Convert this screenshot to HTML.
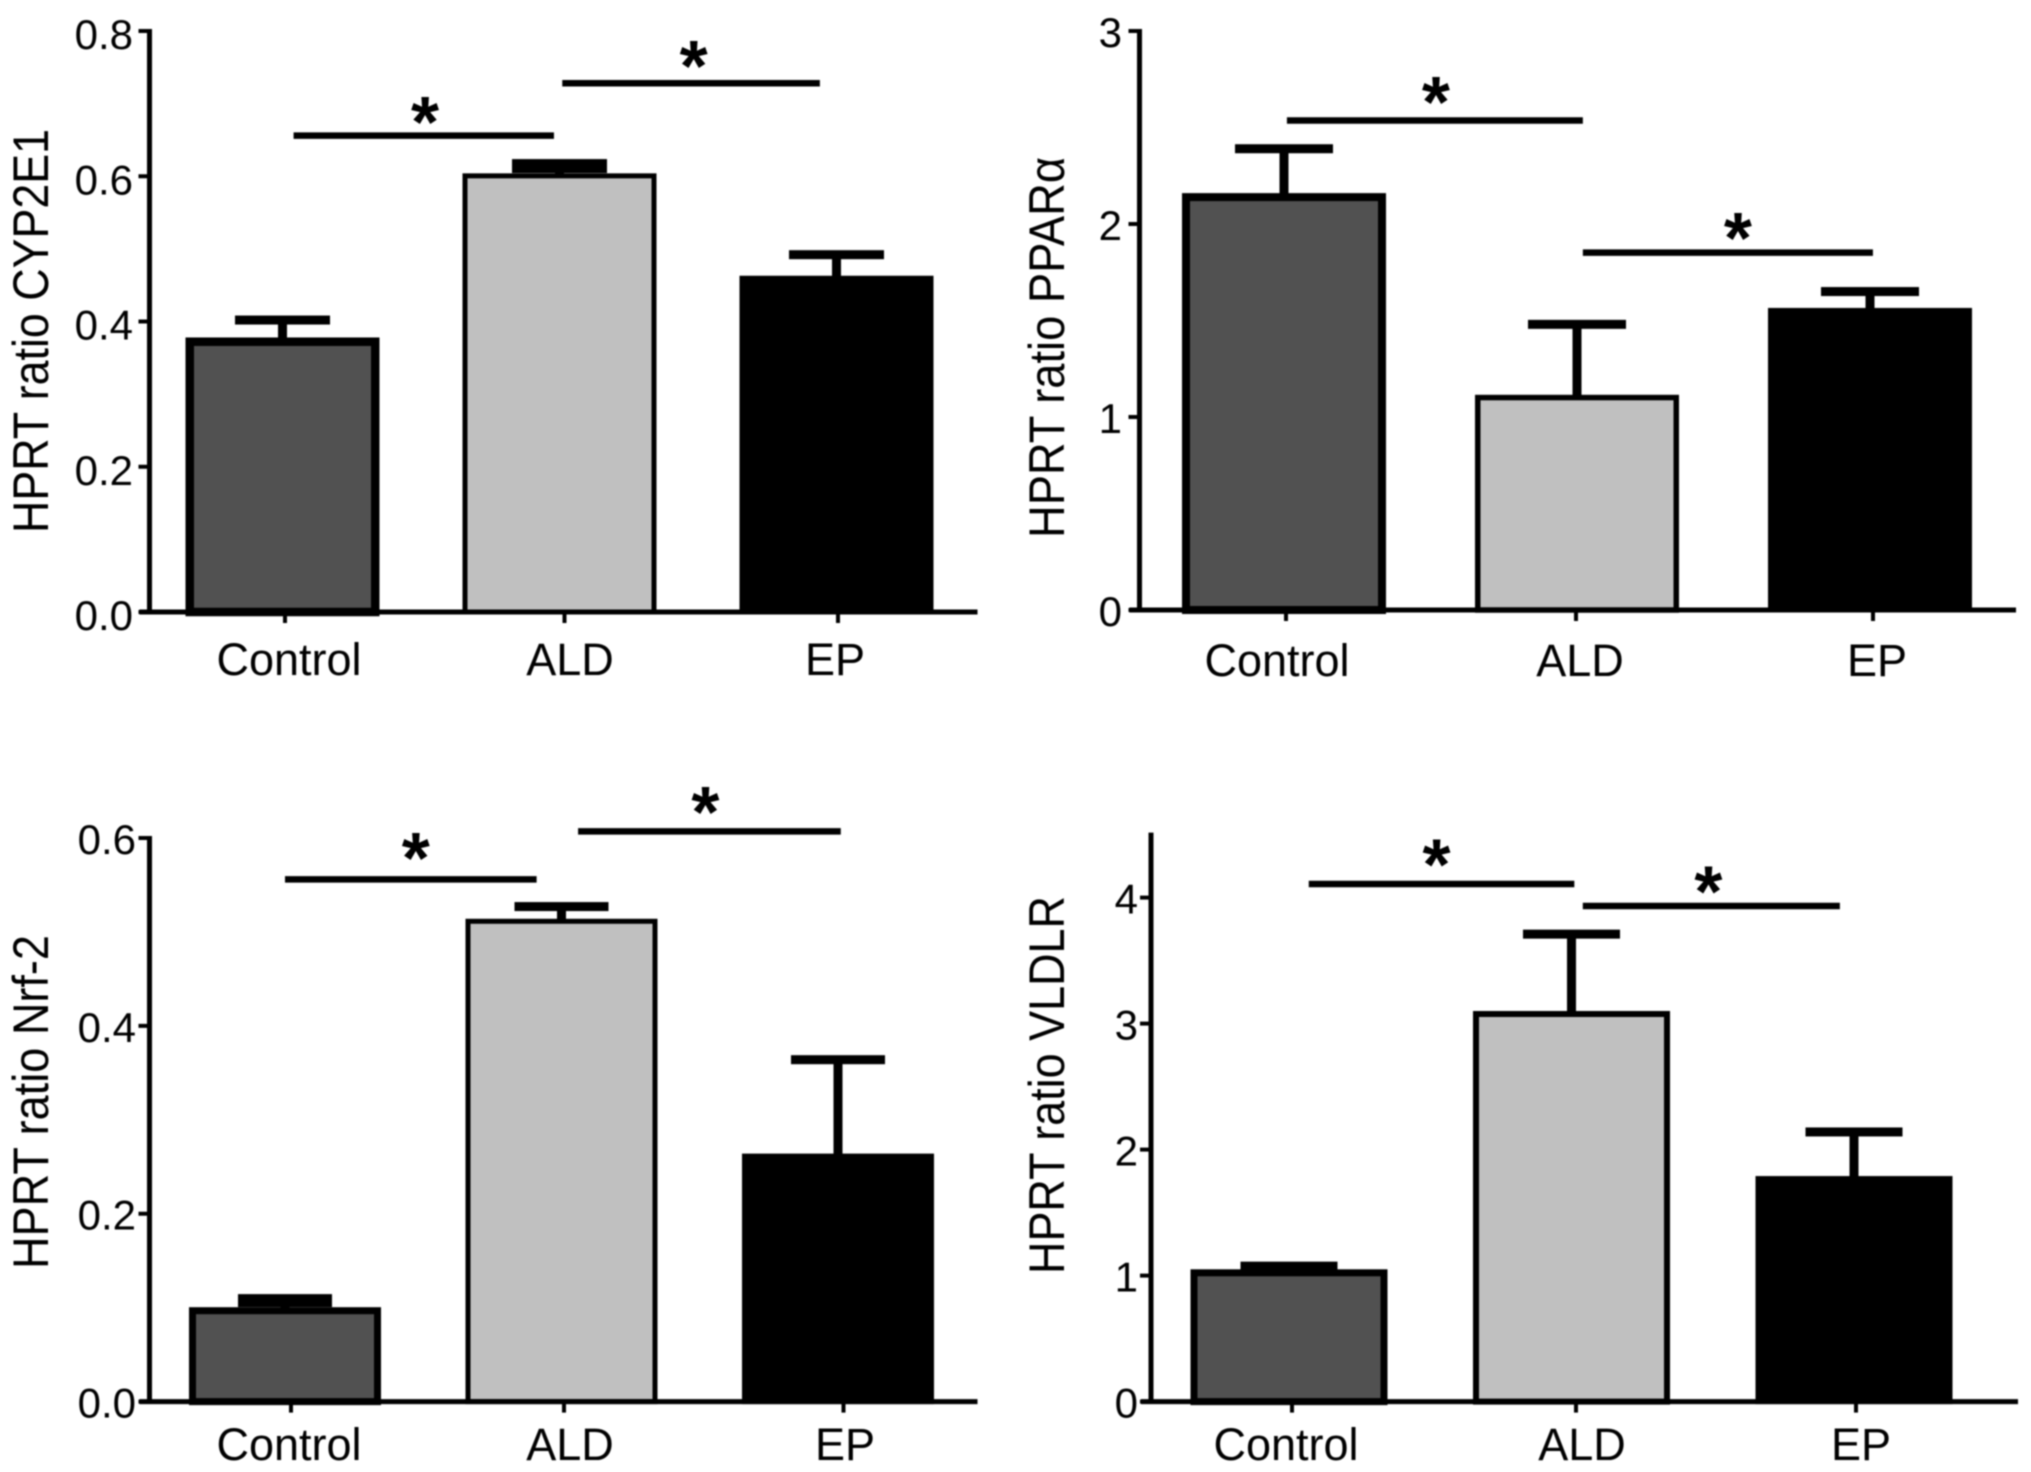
<!DOCTYPE html>
<html lang="en">
<head>
<meta charset="utf-8">
<title>HPRT ratio bar charts</title>
<style>
html,body{margin:0;padding:0;background:#fff;width:2031px;height:1472px;overflow:hidden}
svg{display:block;filter:blur(0.7px)}
text{font-family:"Liberation Sans",sans-serif;fill:#000}
</style>
</head>
<body>
<svg id="figure" xmlns="http://www.w3.org/2000/svg" width="2031" height="1472" viewBox="0 0 2031 1472"></svg>
<script>
// ---- data ----
const categories = ['Control', 'ALD', 'EP'];

const cyp2e1Values = [0.378, 0.604, 0.463];
const cyp2e1Errors = [0.402, 0.614, 0.492];
const cyp2e1Ticks = [0, 0.2, 0.4, 0.6, 0.8];
const cyp2e1TickLabels = ['0.0', '0.2', '0.4', '0.6', '0.8'];
const cyp2e1BracketFrom = [0.04, 1.01];
const cyp2e1BracketTo = [0.98, 1.94];
const cyp2e1BracketLevel = [0.656, 0.728];

const pparValues = [2.16, 1.115, 1.565];
const pparErrors = [2.39, 1.48, 1.65];
const pparTicks = [0, 1, 2, 3];
const pparTickLabels = ['0', '1', '2', '3'];
const pparBracketFrom = [0.01, 1.02];
const pparBracketTo = [1.02, 2.01];
const pparBracketLevel = [2.536, 1.852];

const nrf2Values = [0.1005, 0.514, 0.264];
const nrf2Errors = [0.1075, 0.527, 0.364];
const nrf2Ticks = [0, 0.2, 0.4, 0.6];
const nrf2TickLabels = ['0.0', '0.2', '0.4', '0.6'];
const nrf2BracketFrom = [0.0, 1.06];
const nrf2BracketTo = [0.91, 2.01];
const nrf2BracketLevel = [0.556, 0.607];

const vldlrValues = [1.05, 3.10, 1.79];
const vldlrErrors = [1.075, 3.71, 2.14];
const vldlrTicks = [0, 1, 2, 3, 4];
const vldlrTickLabels = ['0', '1', '2', '3', '4'];
const vldlrBracketFrom = [0.07, 1.04];
const vldlrBracketTo = [1.01, 1.95];
const vldlrBracketLevel = [4.108, 3.933];

// ---- panel layout (geometry only) ----
const barFills = ['#515151', '#c0c0c0', '#000000'];
const panels = [
  {name:'cyp2e1', title:'HPRT ratio CYP2E1', values:cyp2e1Values, errors:cyp2e1Errors, ticks:cyp2e1Ticks, tickLabels:cyp2e1TickLabels,
   from:cyp2e1BracketFrom, to:cyp2e1BracketTo, level:cyp2e1BracketLevel, yMax:0.8,
   axisX:149.5, axisEnd:977.5, y0:612, yTop:31, first:282.5, step:277, barW:194, capW:95, capH:[9,14,9], strokes:[8.5,5,5],
   tickDx:[2.5,5,1.5], labelDx:[6.5,10.5,-1.5], labelY:675, tickRight:133, tickLabelDy:18, titleX:48, titleY:331, titleLen:404,
   starDx:[1.3,2.6], starDy:[-4,-8]},
  {name:'ppar-alpha', title:'HPRT ratio PPARα', values:pparValues, errors:pparErrors, ticks:pparTicks, tickLabels:pparTickLabels,
   from:pparBracketFrom, to:pparBracketTo, level:pparBracketLevel, yMax:3,
   axisX:1139.5, axisEnd:2016, y0:610, yTop:31, first:1284, step:293, barW:204, capW:98, capH:[9,9,9], strokes:[8,5.5,5],
   tickDx:[2,-1,3], labelDx:[-7,3,7], labelY:676, tickRight:1122, tickLabelDy:16, titleX:1064, titleY:347.5, titleLen:381,
   starDx:[1,10], starDy:[-9,-5]},
  {name:'nrf-2', title:'HPRT ratio Nrf-2', values:nrf2Values, errors:nrf2Errors, ticks:nrf2Ticks, tickLabels:nrf2TickLabels,
   from:nrf2BracketFrom, to:nrf2BracketTo, level:nrf2BracketLevel, yMax:0.6,
   axisX:149.5, axisEnd:977.5, y0:1401.6, yTop:838, first:285, step:276.5, barW:192, capW:94, capH:[13,9,9], strokes:[7,5,5],
   tickDx:[6,2.5,5.5], labelDx:[4,8.5,7], labelY:1460, tickRight:136, tickLabelDy:16, titleX:48, titleY:1102, titleLen:334,
   starDx:[5,-4], starDy:[-12,-10]},
  {name:'vldlr', title:'HPRT ratio VLDLR', values:vldlrValues, errors:vldlrErrors, ticks:vldlrTicks, tickLabels:vldlrTickLabels,
   from:vldlrBracketFrom, to:vldlrBracketTo, level:vldlrBracketLevel, yMax:4.5,
   axisX:1151, axisEnd:2018, y0:1401.6, yTop:834.6, first:1289, step:282.5, barW:197, capW:97, capH:[9,9,9], strokes:[7,6,5],
   tickDx:[3,4.5,2], labelDx:[-3,10.5,7], labelY:1460, tickRight:1138, tickLabelDy:16, titleX:1064, titleY:1085, titleLen:378,
   starDx:[-5,-3], starDy:[-10,-5]}
];

// ---- drawing ----
const NS = 'http://www.w3.org/2000/svg';
const root = document.getElementById('figure');

function make(tag, parent, attrs) {
  const node = document.createElementNS(NS, tag);
  Object.keys(attrs).forEach(function (k) { node.setAttribute(k, attrs[k]); });
  parent.appendChild(node);
  return node;
}

panels.forEach(function (p) {
  const yScale = function (v) { return p.y0 - (v / p.yMax) * (p.y0 - p.yTop); };
  const xScale = function (c) { return p.first + c * p.step; };

  const g = make('g', root, {});
  
  

  // bars and error bars
  categories.forEach(function (cat, i) {
    const cx = xScale(i);
    const top = yScale(p.values[i]);
    const errY = yScale(p.errors[i]);
    const sw = p.strokes[i];
    const capH = p.capH[i];

    const stem = make('rect', g, {x: cx - 4.5, y: errY, width: 9, height: Math.max(0, top - errY) + 4, fill: '#000'});
    
    

    const cap = make('rect', g, {x: cx - p.capW / 2, y: errY - capH / 2, width: p.capW, height: capH, fill: '#000'});
    
    

    const bar = make('rect', g, {
      x: cx - p.barW / 2 + sw / 2, y: top + sw / 2,
      width: p.barW - sw, height: p.y0 - top - sw / 2,
      fill: barFills[i], stroke: '#000', 'stroke-width': sw
    });
    
    

    const tick = make('line', g, {x1: cx + p.tickDx[i], x2: cx + p.tickDx[i], y1: p.y0, y2: p.y0 + 11, stroke: '#000', 'stroke-width': 4});
    
    

    const label = make('text', g, {x: cx + p.labelDx[i], y: p.labelY, 'text-anchor': 'middle', 'font-size': 45});
    label.textContent = cat;
    
    
  });

  // axes
  const yAxis = make('line', g, {x1: p.axisX, x2: p.axisX, y1: p.yTop - 2, y2: p.y0 + 2, stroke: '#000', 'stroke-width': 5});
  
  

  const xAxis = make('line', g, {x1: p.axisX - 10, x2: p.axisEnd, y1: p.y0, y2: p.y0, stroke: '#000', 'stroke-width': 5});
  
  

  p.ticks.forEach(function (t, i) {
    const ty = yScale(t);
    const tick = make('line', g, {x1: p.axisX - 11, x2: p.axisX, y1: ty, y2: ty, stroke: '#000', 'stroke-width': 4});
    
    

    const label = make('text', g, {x: p.tickRight, y: ty + p.tickLabelDy, 'text-anchor': 'end', 'font-size': 42});
    label.textContent = p.tickLabels[i];
    
    
  });

  // y axis title
  const title = make('text', g, {
    x: 0, y: 0, 'text-anchor': 'middle', 'font-size': 50,
    textLength: p.titleLen, lengthAdjust: 'spacingAndGlyphs',
    transform: 'translate(' + p.titleX + ' ' + p.titleY + ') rotate(-90)'
  });
  title.textContent = p.title;
  
  

  // significance brackets
  p.level.forEach(function (lv, i) {
    const x1 = xScale(p.from[i]);
    const x2 = xScale(p.to[i]);
    const by = yScale(lv);
    const line = make('line', g, {x1: x1, x2: x2, y1: by, y2: by, stroke: '#000', 'stroke-width': 6.5});
    
    

    const star = make('text', g, {x: (x1 + x2) / 2 + p.starDx[i], y: by + 15.5 + p.starDy[i], 'text-anchor': 'middle', 'font-size': 72, 'font-weight': 'bold'});
    star.textContent = '*';
    
    
  });
});
</script>
</body>
</html>
